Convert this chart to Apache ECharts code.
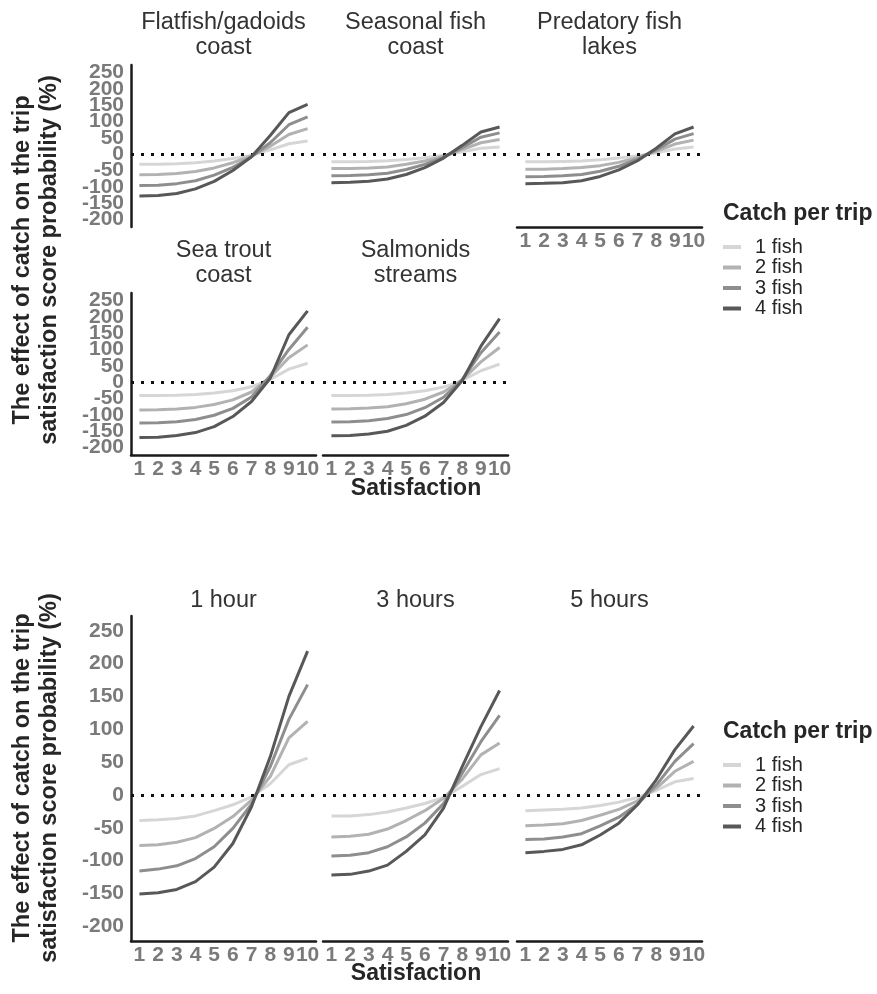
<!DOCTYPE html>
<html><head><meta charset="utf-8">
<script src="https://cdn.jsdelivr.net/npm/echarts@6/dist/echarts.min.js"></script>
<style>html,body{margin:0;padding:0;background:#fff}#c{width:877px;height:994px}</style>
</head><body><div id="c"></div>
<script>
// ---------- DATA ----------
const satisfaction = [1, 2, 3, 4, 5, 6, 7, 8, 9, 10];
const yTickValues = [-200, -150, -100, -50, 0, 50, 100, 150, 200, 250];
const catchLevels = ['1 fish', '2 fish', '3 fish', '4 fish'];
const panelTitles = ['Flatfish/gadoids\ncoast', 'Seasonal fish\ncoast', 'Predatory fish\nlakes', 'Sea trout\ncoast', 'Salmonids\nstreams', '1 hour', '3 hours', '5 hours'];
const axisTitle = 'The effect of catch on the trip\nsatisfaction score probability (%)';
const xTitle = 'Satisfaction';
const legendTitle = 'Catch per trip';

// each: [1 fish, 2 fish, 3 fish, 4 fish]
const flatfishCoast = [
  [-31, -31, -29, -26, -21, -13, -3, 13, 32, 40],
  [-63, -62, -59, -53, -42, -26, -5, 24, 60, 78],
  [-96, -95, -90, -81, -64, -40, -8, 35, 90, 114],
  [-128, -126, -120, -106, -83, -50, -8, 57, 127, 152]
];
const seasonalCoast = [
  [-23, -23, -22, -20, -16, -11, -3, 7, 18, 22],
  [-44, -44, -42, -39, -31, -21, -6, 14, 35, 45],
  [-66, -65, -63, -58, -47, -31, -9, 20, 52, 65],
  [-87, -86, -83, -76, -62, -41, -12, 27, 68, 83]
];
const predatoryLakes = [
  [-23, -23, -22, -21, -17, -12, -5, 4, 16, 22],
  [-46, -46, -44, -41, -35, -25, -10, 9, 31, 43],
  [-69, -68, -66, -62, -52, -37, -15, 13, 46, 63],
  [-90, -89, -87, -81, -68, -48, -20, 18, 62, 83]
];
const seaTroutCoast = [
  [-41, -41, -40, -38, -33, -26, -14, 8, 40, 58],
  [-85, -84, -82, -77, -68, -54, -30, 15, 75, 114],
  [-125, -124, -121, -114, -101, -80, -45, 20, 100, 168],
  [-169, -168, -163, -154, -136, -105, -59, 12, 145, 218]
];
const salmonidsStreams = [
  [-41, -41, -40, -38, -33, -26, -15, 5, 35, 55],
  [-82, -81, -79, -75, -66, -52, -30, 7, 62, 106],
  [-122, -121, -118, -111, -99, -78, -46, 8, 90, 153],
  [-164, -163, -158, -150, -132, -104, -62, 5, 110, 194]
];
const hours1 = [
  [-39, -38, -36, -32, -24, -15, -3, 17, 46, 56],
  [-77, -76, -72, -65, -51, -33, -8, 28, 87, 112],
  [-116, -113, -108, -97, -79, -51, -14, 43, 115, 168],
  [-151, -149, -144, -132, -110, -74, -18, 58, 150, 219]
];
const hours3 = [
  [-32, -32, -30, -26, -20, -13, -4, 13, 31, 40],
  [-64, -63, -60, -52, -39, -24, -5, 24, 61, 79],
  [-93, -92, -88, -79, -64, -43, -13, 33, 81, 121],
  [-122, -121, -116, -107, -86, -61, -20, 43, 104, 159]
];
const hours5 = [
  [-24, -23, -22, -20, -16, -11, -4, 7, 20, 25],
  [-47, -46, -44, -39, -31, -22, -9, 10, 36, 51],
  [-68, -67, -64, -59, -47, -34, -14, 15, 51, 78],
  [-88, -86, -83, -76, -61, -43, -15, 23, 69, 105]
];

// ---------- STYLE / LAYOUT ----------
const FONT = "'Liberation Sans', Arial, Helvetica, sans-serif";
const lineColors = ['#d6d6d6', '#b2b2b2', '#8e8e8e', '#585858'];
const tickColor = '#7a7a7a';
const axisColor = '#1a1a1a';
const PW = 185;
const Y_MIN = -222.5, Y_MAX = 272.5;
const panels = [
  { d: flatfishCoast,   left: 131, top: 65,  h: 162, y: true,  x: false, tTop: 10.5 },
  { d: seasonalCoast,   left: 323, top: 65,  h: 162, y: false, x: false, tTop: 10.5 },
  { d: predatoryLakes,  left: 517, top: 65,  h: 162, y: false, x: true,  tTop: 10.5 },
  { d: seaTroutCoast,   left: 131, top: 293, h: 162, y: true,  x: true,  tTop: 238.5 },
  { d: salmonidsStreams,left: 323, top: 293, h: 162, y: false, x: true,  tTop: 238.5 },
  { d: hours1,          left: 131, top: 616, h: 325, y: true,  x: true,  tTop: 588 },
  { d: hours3,          left: 323, top: 616, h: 325, y: false, x: true,  tTop: 588 },
  { d: hours5,          left: 517, top: 616, h: 325, y: false, x: true,  tTop: 588 }
];

// split tick labels into two interleaved sets so the library never drops crowded ones
const yTicksA = yTickValues.filter((v, k) => k % 2 === 0);
const yTicksB = yTickValues.filter((v, k) => k % 2 === 1);

const yLabelStyle = (vals, show) => ({
  show, customValues: vals, color: tickColor, fontWeight: 'bold',
  fontSize: 21, margin: 7, fontFamily: FONT, hideOverlap: false,
  showMinLabel: true, showMaxLabel: true
});

const grid = [], xAxis = [], yAxis = [], series = [], graphic = [];
panels.forEach((p, i) => {
  grid.push({ left: p.left, top: p.top, width: PW, height: p.h, containLabel: false });
  xAxis.push({
    gridIndex: i, type: 'value', min: 0.55, max: 10.45,
    axisLine: { show: p.x, onZero: false, lineStyle: { color: axisColor, width: 2.5 } },
    axisTick: { show: false }, splitLine: { show: false },
    axisLabel: { show: p.x, customValues: satisfaction, color: tickColor, fontWeight: 'bold',
      fontSize: 21, margin: 4, fontFamily: FONT, hideOverlap: false,
      showMinLabel: true, showMaxLabel: true }
  });
  const yMainIndex = yAxis.length;
  yAxis.push({
    gridIndex: i, type: 'value', min: Y_MIN, max: Y_MAX, position: 'left',
    axisLine: { show: p.y, onZero: false, lineStyle: { color: axisColor, width: 2.5 } },
    axisTick: { show: false }, splitLine: { show: false },
    axisLabel: yLabelStyle(yTicksA, p.y)
  });
  if (p.y) {
    yAxis.push({
      gridIndex: i, type: 'value', min: Y_MIN, max: Y_MAX, position: 'left', offset: 0,
      axisLine: { show: false, onZero: false }, axisTick: { show: false }, splitLine: { show: false },
      axisLabel: yLabelStyle(yTicksB, true)
    });
  }
  p.d.forEach((vals, j) => {
    const s = {
      type: 'line', name: catchLevels[j], xAxisIndex: i, yAxisIndex: yMainIndex,
      data: satisfaction.map((sv, k) => [sv, vals[k]]),
      symbol: 'none', smooth: false,
      lineStyle: { width: 3, color: lineColors[j] },
      itemStyle: { color: lineColors[j] },
      z: 3 + j, animation: false, silent: true
    };
    if (j === 0) {
      s.markLine = {
        silent: true, symbol: ['none', 'none'], animation: false,
        label: { show: false },
        lineStyle: { color: '#111', width: 3, type: [3, 7] },
        data: [{ yAxis: 0 }]
      };
    }
    series.push(s);
  });
  graphic.push({
    type: 'text', x: p.left + PW / 2, y: p.tTop,
    style: { text: panelTitles[i], textAlign: 'center', textVerticalAlign: 'top',
      font: '23.5px ' + FONT, fill: '#333', lineHeight: 25 }
  });
});

// axis titles
[260, 778].forEach(cy => {
  graphic.push({
    type: 'text', x: 36, y: cy, rotation: Math.PI / 2,
    style: { text: axisTitle, textAlign: 'center', textVerticalAlign: 'middle',
      font: 'bold 23.5px ' + FONT, fill: '#262626', lineHeight: 27 }
  });
});
[489, 974].forEach(cy => {
  graphic.push({
    type: 'text', x: 416, y: cy,
    style: { text: xTitle, textAlign: 'center', textVerticalAlign: 'middle',
      font: 'bold 23px ' + FONT, fill: '#262626' }
  });
});
[214, 732].forEach(cy => {
  graphic.push({
    type: 'text', x: 723, y: cy,
    style: { text: legendTitle, textAlign: 'left', textVerticalAlign: 'middle',
      font: 'bold 23px ' + FONT, fill: '#262626' }
  });
});

const legendBase = {
  data: catchLevels, orient: 'vertical', left: 723, padding: 0,
  icon: 'rect', itemWidth: 18, itemHeight: 4, itemGap: 0.5, selectedMode: false,
  textStyle: { fontSize: 20, lineHeight: 20, color: '#262626', fontFamily: FONT, padding: [0, 0, 0, 9] }
};

const chart = echarts.init(document.getElementById('c'), null, { renderer: 'canvas' });
chart.setOption({
  backgroundColor: '#fff',
  animation: false,
  grid, xAxis, yAxis, series, graphic,
  legend: [Object.assign({}, legendBase, { top: 237 }), Object.assign({}, legendBase, { top: 755 })]
});
</script></body></html>
